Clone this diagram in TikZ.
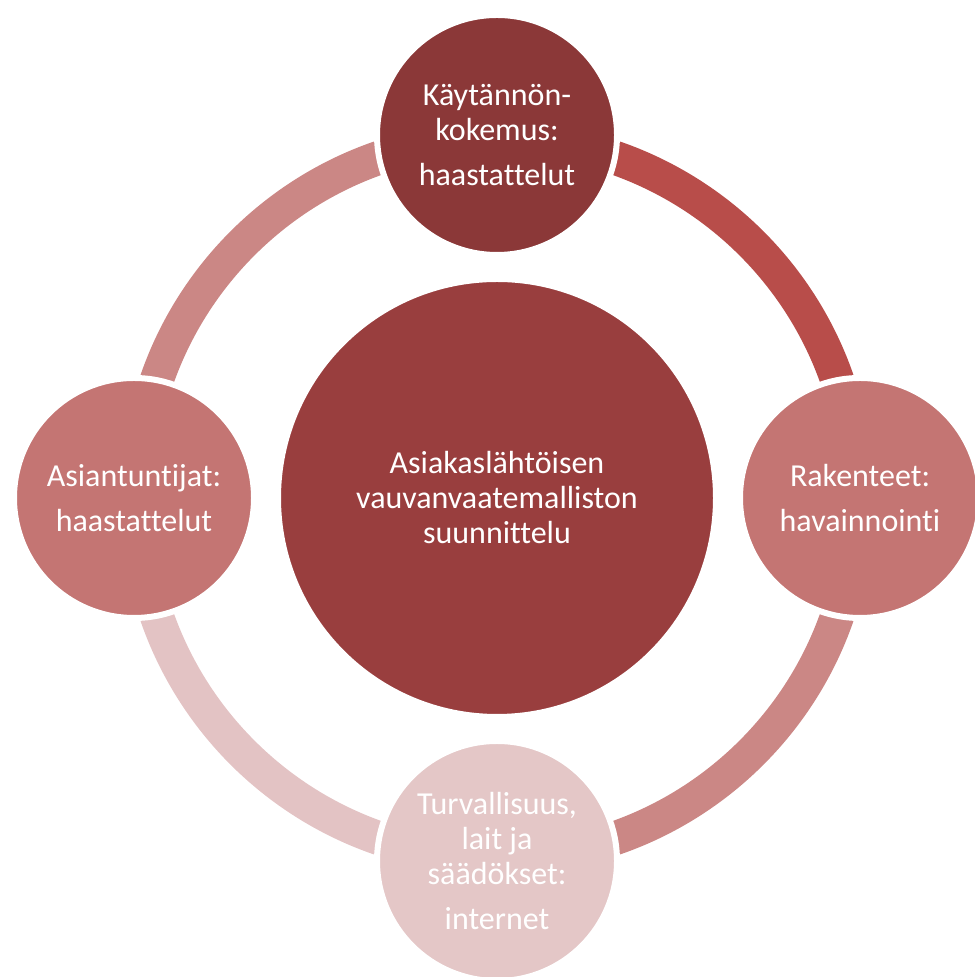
\documentclass[tikz,border=0pt]{standalone}
\usepackage{fontspec}
\setmainfont{Carlito}[Ligatures=NoCommon]
\usetikzlibrary{backgrounds}

\definecolor{topred}{HTML}{8B3838}
\definecolor{midred}{HTML}{993E3E}
\definecolor{sidered}{HTML}{C47573}
\definecolor{lowpink}{HTML}{E4C7C7}
\definecolor{arcdark}{HTML}{B84D4A}
\definecolor{arcmid}{HTML}{CB8785}
\definecolor{arclight}{HTML}{E3C3C4}

\tikzset{
  bubble/.style={circle,draw=white,line width=4.5pt,minimum size=180pt,inner sep=0pt,
    text=white,align=center,font=\fontsize{24}{26.25}\selectfont},
  ring/.style={line width=25.5pt},
}

\begin{document}
\begin{tikzpicture}[x=0.75pt,y=0.75pt]
        \useasboundingbox (0,0) rectangle (974,977);
        \coordinate (c) at (497,479);
        \coordinate (k) at (497,842);
        \coordinate (r) at (860,479);
        \coordinate (t) at (497,116);
        \coordinate (a) at (134,479);
        \node[bubble,fill=midred,minimum size=328.5pt] (mid) at (c){Asiakaslähtöisen\\vauvanvaatemalliston\\suunnittelu};
        \node[bubble,fill=topred] (kok) at (k){Käytännön-\\kokemus:\\[7.5pt]haastattelut};
        \node[bubble,fill=sidered] (rak) at (r){Rakenteet:\\[7.5pt]havainnointi};
        \node[bubble,fill=lowpink] (tur) at (t){Turvallisuus,\\lait ja\\säädökset:\\[7.5pt]internet};
        \node[bubble,fill=sidered] (asi) at (a){Asiantuntijat:\\[7.5pt]haastattelut};
        \begin{scope}[on background layer]
          \draw[ring,draw=arcdark] (mid.center) ++(90:360) arc[start angle=90,end angle=0,radius=360];
          \draw[ring,draw=arcmid] (mid.center) ++(0:360) arc[start angle=0,end angle=-90,radius=360];
          \draw[ring,draw=arclight] (mid.center) ++(270:360) arc[start angle=270,end angle=180,radius=360];
          \draw[ring,draw=arcmid] (mid.center) ++(180:360) arc[start angle=180,end angle=90,radius=360];
        \end{scope}
\end{tikzpicture}
\end{document}
